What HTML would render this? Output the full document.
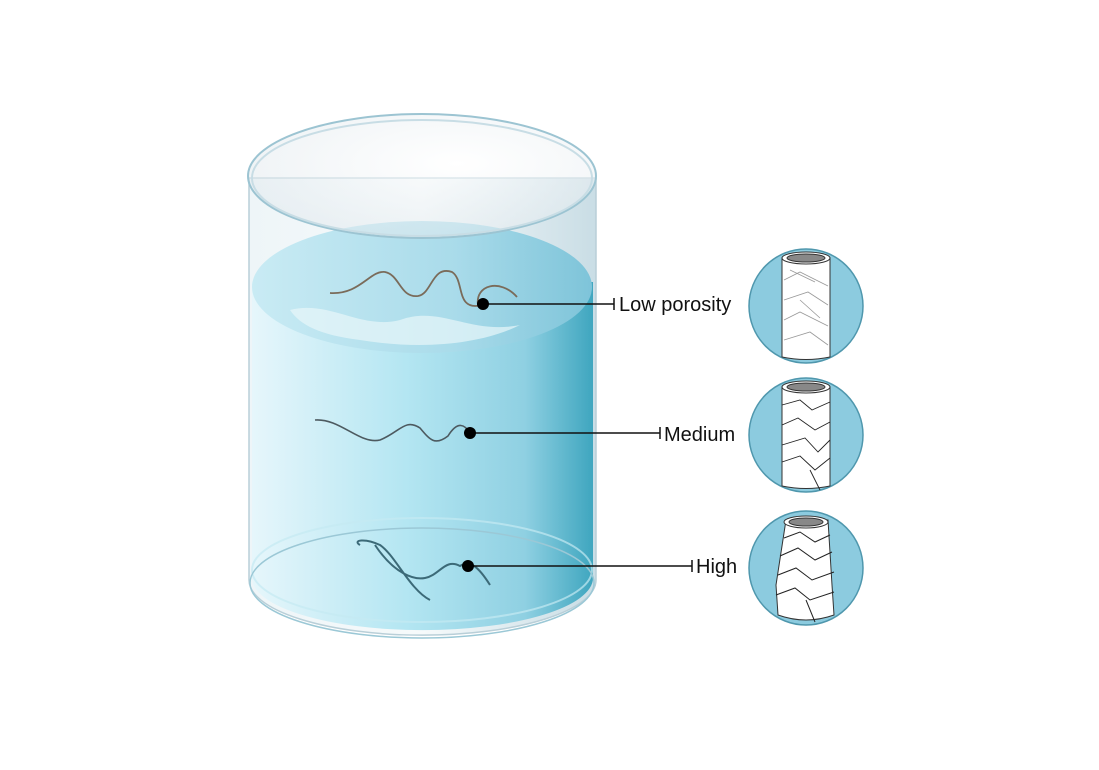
<!DOCTYPE html>
<html><head><meta charset="utf-8"><style>
html,body{margin:0;padding:0;background:#fff;}
svg{display:block;}
text{font-family:"Liberation Sans",sans-serif;font-size:20px;fill:#111;}
</style></head><body>
<svg width="1099" height="770" viewBox="0 0 1099 770">
<defs>
<linearGradient id="wb" x1="0" x2="1" y1="0" y2="0">
<stop offset="0" stop-color="#e6f6fb"/><stop offset="0.45" stop-color="#b4e6f2"/><stop offset="0.8" stop-color="#8fd0e2"/><stop offset="1" stop-color="#3fa6bf"/>
</linearGradient>
<linearGradient id="gs" x1="0" x2="1">
<stop offset="0" stop-color="#eef5f8"/><stop offset="0.5" stop-color="#f6fafb"/><stop offset="1" stop-color="#c9dde5"/>
</linearGradient>
<radialGradient id="top" cx="0.6" cy="0.4" r="0.7">
<stop offset="0" stop-color="#ffffff"/><stop offset="1" stop-color="#dfe7ec"/>
</radialGradient>
<linearGradient id="ws" x1="0" x2="1">
<stop offset="0" stop-color="#c9ebf4"/><stop offset="0.6" stop-color="#a9dbea"/><stop offset="1" stop-color="#7ec4d9"/>
</linearGradient>
</defs>
<!-- glass side -->
<path d="M249,178 L249,580 A173,55 0 0 0 596,580 L596,178 Z" fill="url(#gs)" stroke="#b9cfd8" stroke-width="1.5"/>
<!-- water body -->
<path d="M252,282 L252,578 A170,52 0 0 0 593,578 L593,282 Z" fill="url(#wb)"/>
<ellipse cx="422" cy="570" rx="170" ry="52" fill="none" stroke="#c5e9f2" stroke-width="2" opacity="0.7"/>
<ellipse cx="422" cy="583" rx="172" ry="55" fill="none" stroke="#9bc8d6" stroke-width="1.5"/>
<!-- water surface -->
<ellipse cx="422" cy="287" rx="170" ry="66" fill="url(#ws)"/>
<path d="M290,310 C330,300 360,330 400,320 C440,305 470,335 520,325 C480,345 420,350 360,340 C320,335 300,325 290,310 Z" fill="#e8f6fa" opacity="0.7"/>
<!-- glass top -->
<ellipse cx="422" cy="176" rx="174" ry="62" fill="url(#top)" fill-opacity="0.55" stroke="#9cc4d2" stroke-width="2"/>
<ellipse cx="422" cy="178" rx="170" ry="58" fill="none" stroke="#c8dde5" stroke-width="2"/>
<!-- hairs -->
<path d="M330,293 C360,295 370,270 385,272 C400,275 400,298 418,296 C432,294 432,265 452,272 C465,280 455,312 482,305 M478,305 C475,285 500,278 517,297" fill="none" stroke="#7a6b5a" stroke-width="1.8"/>
<path d="M315,420 C340,418 360,445 380,440 C400,432 405,418 420,428 C430,440 435,446 448,436 C458,420 465,425 470,433" fill="none" stroke="#4d5a60" stroke-width="1.6"/>
<path d="M360,545 C352,540 365,538 380,545 C395,555 410,590 430,600 M375,545 C395,575 415,580 425,578 C440,575 445,558 460,566 C470,560 478,566 490,585" fill="none" stroke="#3c6a78" stroke-width="2"/>
<!-- connectors -->
<g stroke="#111" stroke-width="1.5">
<line x1="483" y1="304" x2="614" y2="304"/><line x1="614" y1="298" x2="614" y2="310"/>
<line x1="470" y1="433" x2="660" y2="433"/><line x1="660" y1="427" x2="660" y2="439"/>
<line x1="468" y1="566" x2="692" y2="566"/><line x1="692" y1="560" x2="692" y2="572"/>
</g>
<circle cx="483" cy="304" r="6" fill="#000"/>
<circle cx="470" cy="433" r="6" fill="#000"/>
<circle cx="468" cy="566" r="6" fill="#000"/>
<text x="619" y="311">Low porosity</text>
<text x="664" y="441">Medium</text>
<text x="696" y="573">High</text>
<!-- circles -->
<g stroke="#4f97ad" stroke-width="1.5" fill="#8ccbdf">
<circle cx="806" cy="306" r="57"/><circle cx="806" cy="435" r="57"/><circle cx="806" cy="568" r="57"/>
</g>
<g fill="#fff" stroke="#333" stroke-width="1">
<path d="M782,258 L782,357 Q806,362 830,357 L830,258 Z"/>
<ellipse cx="806" cy="258" rx="24" ry="6"/>
<ellipse cx="806" cy="258" rx="19" ry="4" fill="#888"/>
<path d="M782,387 L782,486 Q806,491 830,486 L830,387 Z"/>
<ellipse cx="806" cy="387" rx="24" ry="6"/>
<ellipse cx="806" cy="387" rx="19" ry="4" fill="#888"/>
<path d="M786,520 L776,585 L778,615 Q806,625 834,615 L832,585 L828,520 Z"/>
<ellipse cx="806" cy="522" rx="22" ry="6"/>
<ellipse cx="806" cy="522" rx="17" ry="4" fill="#888"/>
</g>
<g fill="none" stroke="#999" stroke-width="0.8">
<path d="M784,280 L800,272 L828,286 M784,300 L808,292 L828,305 M784,320 L800,312 L828,326 M784,340 L810,332 L828,345 M790,270 L815,282 M800,300 L820,318"/>
</g>
<g fill="none" stroke="#222" stroke-width="0.9">
<path d="M782,405 L800,400 L812,410 L830,402 M782,425 L798,418 L815,430 L830,422 M782,445 L805,438 L818,452 L830,440 M782,462 L800,456 L815,470 L830,458 M810,470 L820,490"/>
</g>
<g fill="none" stroke="#222" stroke-width="1">
<path d="M784,538 L800,532 L815,542 L830,535 M780,556 L798,548 L815,560 L832,552 M778,575 L796,568 L812,580 L834,572 M776,595 L795,588 L810,600 L834,592 M806,600 L815,622"/>
</g>
</svg>
</body></html>
